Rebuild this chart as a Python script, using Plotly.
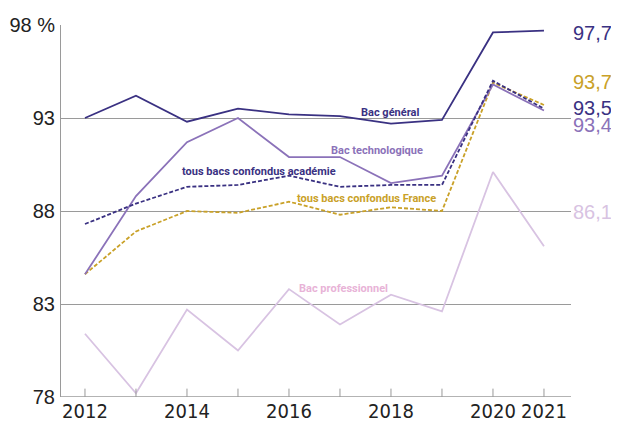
import plotly.graph_objects as go

years = [2012, 2013, 2014, 2015, 2016, 2017, 2018, 2019, 2020, 2021]
bac_general = [93.0, 94.2, 92.8, 93.5, 93.2, 93.1, 92.7, 92.9, 97.6, 97.7]
bac_techno = [84.6, 88.8, 91.7, 93.0, 90.9, 90.9, 89.5, 89.9, 94.8, 93.4]
tous_academie = [87.3, 88.4, 89.3, 89.4, 89.9, 89.3, 89.4, 89.4, 95.0, 93.5]
tous_france = [84.6, 86.9, 88.0, 87.9, 88.5, 87.8, 88.2, 88.0, 94.9, 93.7]
bac_pro = [81.4, 78.2, 82.7, 80.5, 83.8, 81.9, 83.5, 82.6, 90.1, 86.1]

y_ticks = [78, 83, 88, 93, 98]
y_tick_labels = ["78", "83", "88", "93", "98 %"]
x_ticks = [2012, 2014, 2016, 2018, 2020, 2021]

NAVY = "#3a3182"
PURPLE = "#8b72b9"
GOLD = "#c9a128"
LILAC = "#d8c3e2"
PINK = "#e8b3d7"

fig = go.Figure()
series = [
    (bac_pro, LILAC, "solid"),
    (tous_france, GOLD, "dash"),
    (bac_techno, PURPLE, "solid"),
    (tous_academie, NAVY, "dash"),
    (bac_general, NAVY, "solid"),
]
for vals, col, dash in series:
    fig.add_trace(go.Scatter(x=years, y=vals, mode="lines",
                             line=dict(color=col, width=1.8, dash="4px,2px" if dash == "dash" else "solid"),
                             showlegend=False, hoverinfo="skip"))

label_font = "Roboto, sans-serif"
inline_labels = [
    ("Bac général", 2017.98, 93.3, NAVY),
    ("Bac technologique", 2017.72, 91.25, PURPLE),
    ("tous bacs confondus académie", 2015.41, 90.15, NAVY),
    ("tous bacs confondus France", 2017.52, 88.68, GOLD),
    ("Bac professionnel", 2017.06, 83.85, PINK),
]
for txt, x, y, col in inline_labels:
    fig.add_annotation(x=x, y=y, text="<b>%s</b>" % txt, showarrow=False,
                       font=dict(family=label_font, size=11, color=col),
                       xanchor="center", yanchor="middle")

end_labels = [
    ("97,7", 97.57, NAVY),
    ("93,7", 94.95, GOLD),
    ("93,5", 93.55, NAVY),
    ("93,4", 92.6, PURPLE),
    ("86,1", 87.96, LILAC),
]
for txt, y, col in end_labels:
    fig.add_annotation(x=1.0, xref="paper", y=y, yref="y", text=txt, showarrow=False,
                       xanchor="left", yanchor="middle", xshift=0,
                       font=dict(family="Liberation Sans, Arial, sans-serif", size=20, color=col))

fig.update_layout(
    width=611, height=415,
    margin=dict(l=53, r=48, t=17, b=26, autoexpand=False),
    paper_bgcolor="white", plot_bgcolor="white",
    xaxis=dict(range=[2011.53, 2021.53], tickmode="array", tickvals=x_ticks,
               ticktext=[str(v) for v in x_ticks], automargin=False,
               showgrid=False, zeroline=False, showline=False,
               ticks="", tickfont=dict(family="DejaVu Sans Condensed, sans-serif", size=20, color="#222"),
               ticklabelstandoff=0),
    yaxis=dict(range=[78, 98], tickmode="array", tickvals=y_ticks, ticktext=y_tick_labels,
               automargin=False,
               showgrid=True, gridcolor="#9a9a9a", gridwidth=1, zeroline=False,
               showline=True, linecolor="#9a9a9a", linewidth=1,
               ticks="", tickfont=dict(family="Liberation Sans, Arial, sans-serif", size=20, color="#222"),
               ticklabelstandoff=1),
)

for yr in years:
    fig.add_shape(type="line", x0=yr, x1=yr, y0=78, y1=78.45, xref="x", yref="y",
                  line=dict(color="#9a9a9a", width=1))
fig.add_shape(type="line", x0=0, x1=1, xref="paper", y0=78, y1=78, yref="y",
              line=dict(color="#9a9a9a", width=1.5))

fig.write_html("out.html")
